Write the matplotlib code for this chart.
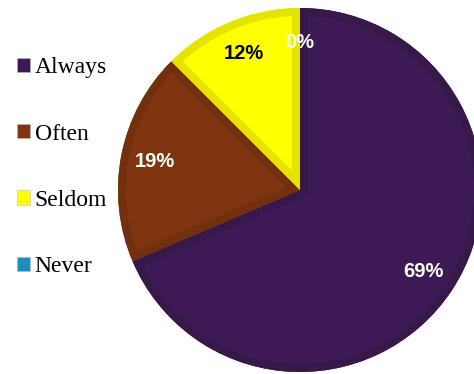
import matplotlib
matplotlib.use('Agg')
import matplotlib.pyplot as plt
from matplotlib.patches import Patch, Wedge

labels = ['Always', 'Often', 'Seldom', 'Never']
values = [68.6, 18.9, 12.5, 0]
colors = ['#3d1a55', '#7f3510', '#ffff00', '#1a8fc1']
borders = ['#371849', '#73300f', '#e4e400', '#177fae']
pct_colors = ['white', 'white', 'black', 'white']

fig = plt.figure(figsize=(4.74, 3.74), dpi=100)
ax = fig.add_axes([0, 0, 1, 1])

wedges, texts, autotexts = ax.pie(
    values, colors=colors, startangle=90, counterclock=False,
    center=(300, 184), radius=182, autopct='%1.0f%%', pctdistance=0.81,
    frame=True, wedgeprops=dict(linewidth=0),
    textprops=dict(family='Liberation Sans', fontweight='bold', fontsize=14.5))
ax.set_xlim(0, 474)
ax.set_ylim(0, 374)
ax.axis('off')

# inner darker rim on each slice
for w, bc in zip(wedges, borders):
    rim = Wedge(w.center, w.r, w.theta1, w.theta2, facecolor='none',
                edgecolor=bc, linewidth=11.5)
    ax.add_patch(rim)
    rim.set_clip_path(w)

for t, c in zip(autotexts, pct_colors):
    t.set_color(c)

handles = [Patch(facecolor=c, edgecolor='#bbbbbb', linewidth=0.4) for c in colors]
ax.legend(handles, labels, loc='upper left', bbox_to_anchor=(0.036, 0.847),
          frameon=False, borderpad=0, borderaxespad=0, labelspacing=1.92,
          handlelength=0.55, handleheight=0.55, handletextpad=0.2,
          prop=dict(family='Liberation Serif', size=17))

fig.savefig('out.png', dpi=100)
